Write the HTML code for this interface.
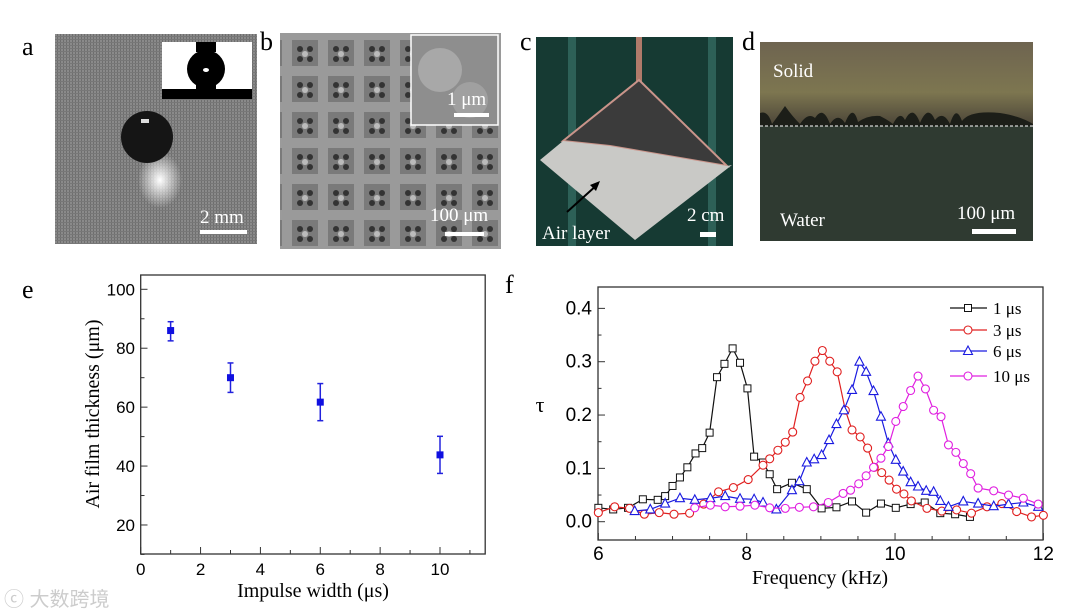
<!DOCTYPE html>
<html><head><meta charset="utf-8"><style>
html,body{margin:0;padding:0;background:#fff;}
svg{display:block;font-family:"Liberation Serif",serif;}
</style></head><body>
<svg width="1080" height="616" viewBox="0 0 1080 616" xmlns="http://www.w3.org/2000/svg">
<defs>
<pattern id="grid" width="3" height="3" patternUnits="userSpaceOnUse"><rect width="3" height="3" fill="#8a8a8a"/><rect width="1" height="3" fill="#6e6e6e"/><rect width="3" height="1" fill="#777"/></pattern>
<radialGradient id="glow" cx="0.5" cy="0.5" r="0.5"><stop offset="0" stop-color="#fff"/><stop offset="1" stop-color="#fff" stop-opacity="0"/></radialGradient>
<linearGradient id="solidg" x1="0" y1="0" x2="0" y2="1"><stop offset="0" stop-color="#6e6450"/><stop offset="0.6" stop-color="#7d7650"/><stop offset="1" stop-color="#4a4438"/></linearGradient>
<pattern id="sem" width="36" height="36" patternUnits="userSpaceOnUse"><rect width="36" height="36" fill="#9a9a9a"/><rect x="4" y="4" width="26" height="26" fill="#7a7a7a"/><circle cx="12" cy="13" r="3" fill="#333"/><circle cx="22" cy="13" r="3" fill="#333"/><circle cx="12" cy="23" r="3" fill="#333"/><circle cx="22" cy="23" r="3" fill="#333"/><circle cx="17" cy="18" r="3" fill="#bbb"/></pattern>
</defs>

<!-- panel a -->
<g>
<rect x="55" y="34" width="202" height="210" fill="url(#grid)"/>
<ellipse cx="160" cy="180" rx="22" ry="28" fill="url(#glow)"/>
<circle cx="147" cy="137" r="26" fill="#151515"/>
<rect x="141" y="119" width="8" height="4" fill="#ddd"/>
<rect x="162" y="42" width="90" height="57" fill="#fff"/>
<rect x="162" y="89" width="90" height="10" fill="#000"/>
<rect x="196" y="42" width="20" height="10" fill="#000"/>
<circle cx="206" cy="69" r="19" fill="#000"/>
<rect x="196" y="80" width="20" height="10" fill="#000"/>
<ellipse cx="206" cy="70" rx="3" ry="2" fill="#fff"/>
<text x="200" y="223" font-size="19" fill="#fff">2 mm</text>
<rect x="200" y="230" width="47" height="4" fill="#fff"/>
</g>
<text x="22" y="55" font-size="26">a</text>

<!-- panel b -->
<g>
<rect x="280" y="33" width="221" height="216" fill="url(#sem)"/>
<rect x="411" y="35" width="87" height="90" fill="#8e8e8e" stroke="#fff" stroke-width="1.5"/>
<circle cx="440" cy="70" r="22" fill="#a8a8a8"/>
<circle cx="470" cy="100" r="18" fill="#a0a0a0"/>
<text x="447" y="105" font-size="19" fill="#fff">1 μm</text>
<rect x="454" y="113" width="35" height="4" fill="#fff"/>
<text x="430" y="221" font-size="19" fill="#fff">100 μm</text>
<rect x="445" y="232" width="39" height="4" fill="#fff"/>
</g>
<text x="260" y="50" font-size="26">b</text>

<!-- panel c -->
<g>
<rect x="536" y="37" width="197" height="209" fill="#163a33"/>
<rect x="568" y="37" width="8" height="209" fill="#3d7a70" opacity="0.6"/>
<rect x="708" y="37" width="8" height="209" fill="#3d7a70" opacity="0.6"/>
<rect x="636" y="37" width="6" height="45" fill="#b07a6a"/>
<polygon points="639,80 563,141 610,146 727,166" fill="#3b3b3b" stroke="#c9948a" stroke-width="2"/>
<polygon points="563,141 540,160 635,240 732,165 727,166 610,146" fill="#c9c9c6"/>
<text x="542" y="239" font-size="19" fill="#fff">Air layer</text>
<line x1="567" y1="212" x2="598" y2="184" stroke="#000" stroke-width="2"/>
<polygon points="600,181 590,185 596,191" fill="#000"/>
<text x="687" y="221" font-size="19" fill="#fff">2 cm</text>
<rect x="700" y="232" width="16" height="5" fill="#fff"/>
</g>
<text x="520" y="50" font-size="26">c</text>

<!-- panel d -->
<g>
<rect x="760" y="42" width="273" height="199" fill="#2f3a31"/>
<rect x="760" y="42" width="273" height="84" fill="url(#solidg)"/>
<path d="M760,113 Q768,110 772,124 Q778,116 785,106 Q792,116 800,124 Q808,112 815,118 Q823,105 830,124 Q838,112 845,123 Q853,103 858,122 Q868,115 880,116 Q888,120 893,124 Q900,110 905,120 Q913,104 920,123 Q928,104 935,120 Q943,110 950,124 Q956,104 962,121 Q970,110 1000,113 Q1020,116 1033,124 L1033,126 L760,126Z" fill="#1c1e18"/>
<line x1="760" y1="126" x2="1033" y2="126" stroke="#fff" stroke-dasharray="3,2" stroke-width="1"/>
<text x="773" y="77" font-size="19" fill="#fff">Solid</text>
<text x="780" y="226" font-size="19" fill="#fff">Water</text>
<text x="957" y="219" font-size="19" fill="#fff">100 μm</text>
<rect x="972" y="229" width="44" height="5" fill="#fff"/>
</g>
<text x="742" y="50" font-size="26">d</text>

<text x="22" y="298" font-size="26">e</text>
<text x="505" y="293" font-size="26">f</text>

<g id="chartE"></g>
<g id="chartF"></g>
<text x="4" y="606" font-size="20" fill="#ccc" font-family="Liberation Sans, Noto Sans CJK SC, sans-serif">ⓒ 大数跨境</text>
</svg>
<script>
const eX=[1,3,6,10];
const eY=[86,70,61.7,43.8];
const eErrUp=[3,5,6.3,6.3];
const eErrDn=[3.5,5,6.3,6.3];
const eXTicks=[0,2,4,6,8,10];
const eYTicks=[20,40,60,80,100];

const fFreq1=[6.0,6.2,6.4,6.6,6.8,6.9,7.0,7.1,7.2,7.31,7.4,7.5,7.6,7.7,7.81,7.91,8.01,8.1,8.22,8.31,8.41,8.61,8.81,9.01,9.21,9.42,9.61,9.81,10.01,10.21,10.4,10.61,10.81,11.01];
const fTau1=[0.026,0.023,0.026,0.042,0.041,0.048,0.067,0.083,0.102,0.128,0.138,0.167,0.271,0.296,0.325,0.298,0.25,0.122,0.111,0.089,0.061,0.073,0.061,0.025,0.027,0.038,0.017,0.034,0.026,0.033,0.036,0.016,0.014,0.009];
const fFreq3=[6.0,6.22,6.42,6.62,6.82,7.02,7.23,7.42,7.62,7.82,8.02,8.22,8.31,8.42,8.52,8.62,8.72,8.82,8.92,9.02,9.12,9.22,9.33,9.42,9.53,9.63,9.72,9.82,9.92,10.02,10.12,10.22,10.43,10.63,10.83,11.03,11.24,11.44,11.64,11.84,12.0];
const fTau3=[0.017,0.028,0.025,0.014,0.017,0.014,0.016,0.033,0.056,0.064,0.079,0.106,0.118,0.134,0.149,0.168,0.233,0.264,0.301,0.321,0.301,0.281,0.209,0.172,0.159,0.138,0.102,0.092,0.078,0.061,0.052,0.039,0.025,0.02,0.022,0.016,0.028,0.034,0.019,0.009,0.012];
const fFreq6=[6.49,6.7,6.9,7.1,7.3,7.51,7.71,7.91,8.1,8.22,8.4,8.61,8.71,8.81,8.91,9.01,9.11,9.21,9.31,9.42,9.52,9.61,9.71,9.81,9.91,10.01,10.11,10.21,10.31,10.42,10.52,10.61,10.72,10.92,11.12,11.33,11.53,11.73,11.93];
const fTau6=[0.02,0.023,0.034,0.044,0.041,0.044,0.048,0.043,0.042,0.036,0.023,0.059,0.076,0.111,0.117,0.125,0.153,0.183,0.209,0.247,0.3,0.281,0.245,0.197,0.147,0.116,0.094,0.074,0.066,0.058,0.056,0.039,0.028,0.038,0.034,0.029,0.033,0.036,0.028];
const fFreq10=[7.3,7.51,7.71,7.91,8.11,8.31,8.52,8.71,8.9,9.1,9.3,9.4,9.51,9.61,9.71,9.81,9.91,10.01,10.11,10.21,10.31,10.41,10.52,10.62,10.72,10.82,10.92,11.02,11.12,11.33,11.53,11.73,11.93];
const fTau10=[0.026,0.031,0.028,0.029,0.031,0.026,0.025,0.027,0.028,0.036,0.053,0.059,0.071,0.086,0.102,0.119,0.141,0.188,0.216,0.246,0.273,0.249,0.209,0.197,0.144,0.13,0.109,0.09,0.063,0.058,0.05,0.044,0.033];
const fXTicks=[6,8,10,12];
const fYTicks=[0,0.1,0.2,0.3,0.4];
const fLegend=["1 μs","3 μs","6 μs","10 μs"];

const NS="http://www.w3.org/2000/svg";
function mk(parent,tag,attrs,txt){const e=document.createElementNS(NS,tag);for(const k in attrs)e.setAttribute(k,attrs[k]);if(txt!==undefined)e.textContent=txt;parent.appendChild(e);return e;}

// chart e
const gE=document.getElementById('chartE');


const exS=v=>140.7+v*29.93, eyS=v=>289.3+(100-v)*2.946;
mk(gE,'rect',{x:140.7,y:275,width:344.5,height:279,fill:'none',stroke:'#333','stroke-width':1.3});
for(let v=0;v<=11;v++){mk(gE,'line',{x1:exS(v),x2:exS(v),y1:554,y2:v%2?550:547,stroke:'#333'});}
for(let v=10;v<=100;v+=10){mk(gE,'line',{x1:140.7,x2:v%20?144.5:147.5,y1:eyS(v),y2:eyS(v),stroke:'#333'});}
eXTicks.forEach(v=>{const t=mk(gE,'text',{x:exS(v),y:575,'font-size':17,'text-anchor':'middle','font-family':'Liberation Sans, sans-serif'},v);});
eYTicks.forEach(v=>{const t=mk(gE,'text',{x:135,y:eyS(v)+6,'font-size':17,'text-anchor':'end','font-family':'Liberation Sans, sans-serif'},v);});
const ext=mk(gE,'text',{x:313,y:597,'font-size':20,'text-anchor':'middle'},'Impulse width (μs)');

const eyt=mk(gE,'text',{x:0,y:0,'font-size':20,'text-anchor':'middle',transform:'translate(99,414) rotate(-90)'},'Air film thickness (μm)');

eX.forEach((x,i)=>{
  const px=exS(x),t=eyS(eY[i]+eErrUp[i]),b=eyS(eY[i]-eErrDn[i]);
  const g=mk(gE,'g',{});
  
  
  mk(g,'line',{x1:px,x2:px,y1:t,y2:b,stroke:'#2222dd','stroke-width':1.5});
  mk(g,'line',{x1:px-3,x2:px+3,y1:t,y2:t,stroke:'#2222dd','stroke-width':1.5});
  mk(g,'line',{x1:px-3,x2:px+3,y1:b,y2:b,stroke:'#2222dd','stroke-width':1.5});
  mk(g,'rect',{x:px-3.5,y:eyS(eY[i])-3.5,width:7,height:7,fill:'#1010e0'});
});

// chart f
const gF=document.getElementById('chartF');


const fx=v=>746.7+(v-8)*74.17, fy=v=>521.7-v*533.3;
mk(gF,'rect',{x:598,y:287,width:445,height:253,fill:'none',stroke:'#333','stroke-width':1.3});
for(let v=6;v<=12;v+=0.5){mk(gF,'line',{x1:fx(v),x2:fx(v),y1:540,y2:(v*2)%4?536:533,stroke:'#333'});}
for(let v=0;v<=0.4001;v+=0.05){mk(gF,'line',{x1:598,x2:(Math.round(v*100)%10)?601.5:605,y1:fy(v),y2:fy(v),stroke:'#333'});}
fXTicks.forEach(v=>{const t=mk(gF,'text',{x:fx(v),y:560,'font-size':19,'text-anchor':'middle','font-family':'Liberation Sans, sans-serif'},v);});
fYTicks.forEach(v=>{const t=mk(gF,'text',{x:592,y:fy(v)+6,'font-size':19,'text-anchor':'end','font-family':'Liberation Sans, sans-serif'},v.toFixed(1));});
const fxt=mk(gF,'text',{x:820,y:584,'font-size':20,'text-anchor':'middle'},'Frequency (kHz)');

const fyt=mk(gF,'text',{x:540,y:412,'font-size':22,'text-anchor':'middle'},'τ');


function marker(g,type,x,y,c){
  if(type==='sq')mk(g,'rect',{x:x-3.5,y:y-3.5,width:7,height:7,fill:'#fff',stroke:c,'stroke-width':1});
  else if(type==='ci')mk(g,'circle',{cx:x,cy:y,r:4,fill:'#fff',stroke:c,'stroke-width':1.1});
  else mk(g,'polygon',{points:`${x},${y-5} ${x-4.5},${y+3.5} ${x+4.5},${y+3.5}`,fill:'#fff',stroke:c,'stroke-width':1.1});
}
const series=[[fFreq1,fTau1,'#111','sq'],[fFreq3,fTau3,'#e02020','ci'],[fFreq6,fTau6,'#1a1ae0','tr'],[fFreq10,fTau10,'#e020e0','ci']];
series.forEach((s,k)=>{
  const g=mk(gF,'g',{});
  
  
  mk(g,'polyline',{points:s[0].map((f,i)=>fx(f)+','+fy(s[1][i])).join(' '),fill:'none',stroke:s[2],'stroke-width':1.2});
  s[0].forEach((f,i)=>marker(g,s[3],fx(f),fy(s[1][i]),s[2]));
  const ly=[308,330,351,376][k];
  const lg=mk(gF,'g',{});
  
  
  mk(lg,'line',{x1:950,x2:987,y1:ly,y2:ly,stroke:s[2],'stroke-width':1.2});
  marker(lg,s[3],968,ly,s[2]);
  mk(lg,'text',{x:993,y:ly+6,'font-size':17},fLegend[k]);
});
</script>
</body></html>
